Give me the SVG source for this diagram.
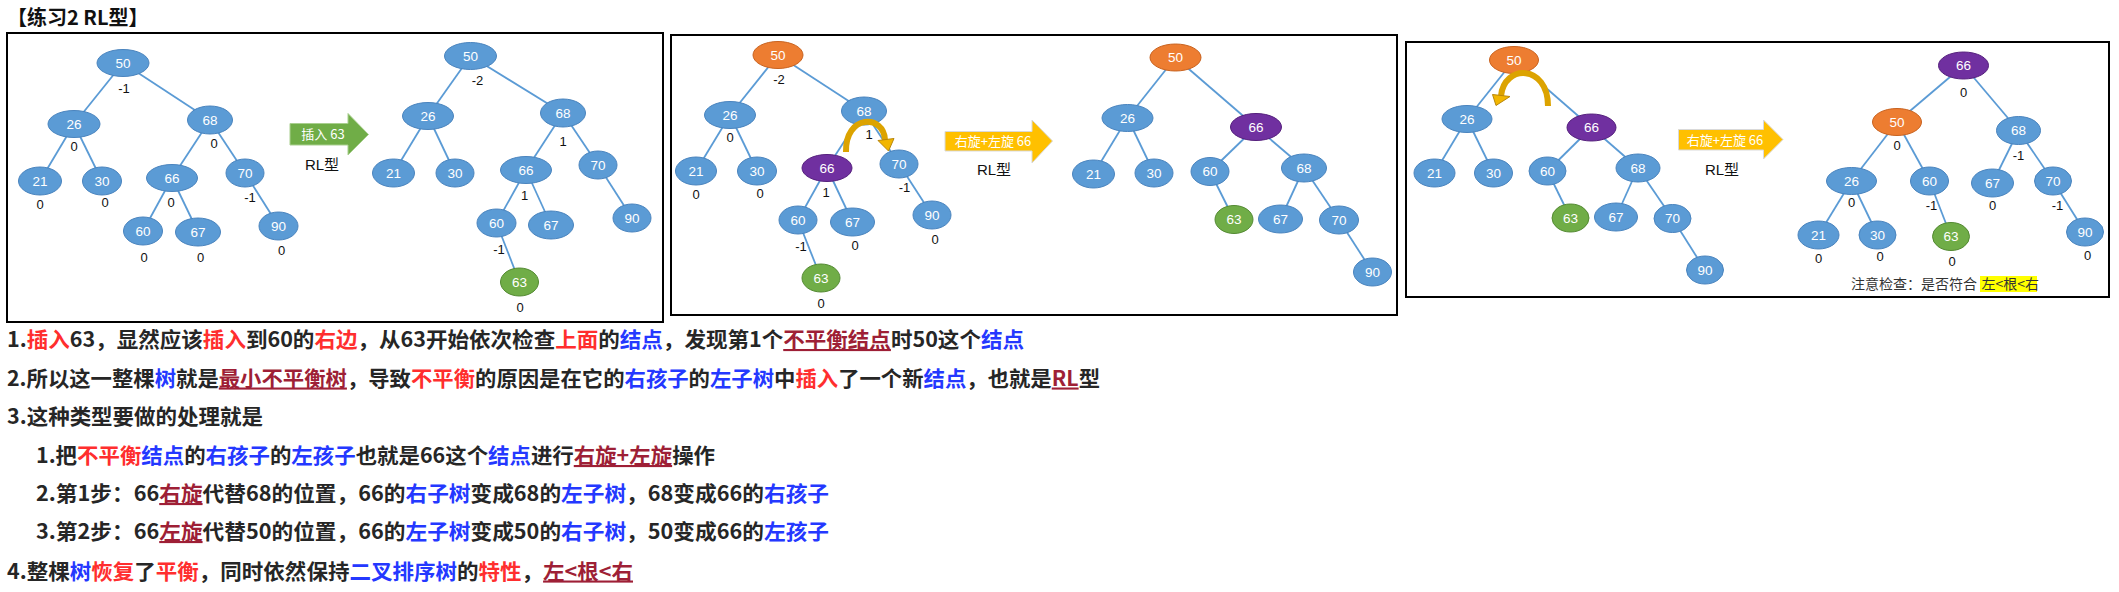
<svg xmlns="http://www.w3.org/2000/svg" width="2119" height="592" viewBox="0 0 2119 592">
<style>
.bx{fill:none;stroke:#000;stroke-width:2}
.e{stroke:#5B9BD5;stroke-width:1.8;fill:none}
.nb{fill:#5B9BD5;stroke:#4A84BE;stroke-width:1}
.no{fill:#ED7D31;stroke:#C8621F;stroke-width:1}
.np{fill:#7030A0;stroke:#55207D;stroke-width:1}
.ng{fill:#70AD47;stroke:#548A33;stroke-width:1}
.nt{font-family:"Liberation Sans",Arial,sans-serif;font-size:13.5px;fill:#fff;text-anchor:middle}
.bf{font-family:"Liberation Sans",Arial,sans-serif;font-size:13px;fill:#111;text-anchor:middle}
.at{font-family:"Noto Sans CJK SC","Liberation Sans",sans-serif;font-size:13px;fill:#fff;text-anchor:middle}
.rl{font-family:"Liberation Sans","Noto Sans CJK SC",sans-serif;font-size:15px;fill:#111;text-anchor:middle}
.ln{font-family:"Noto Sans CJK SC","Liberation Sans",sans-serif;font-size:21px;font-weight:bold;fill:#262626}
.r{fill:#FF2E2E}
.b{fill:#2438FF}
.d{fill:#9E1F36;text-decoration:underline}
.arc{fill:none;stroke:#DCA300;stroke-width:6}
.ah{fill:#F2B600;stroke:#B8860B;stroke-width:1}
.cn{font-family:"Noto Sans CJK SC",sans-serif;font-size:14px;fill:#333}
</style>

<text x="7" y="25" font-family="Noto Sans CJK SC, sans-serif" font-size="20" font-weight="bold" fill="#111">【练习2 RL型】</text>

<g id="frames">
<rect class="bx" x="7" y="33" width="656" height="289"/>
<rect class="bx" x="671" y="35" width="726" height="280"/>
<rect class="bx" x="1406" y="42" width="703" height="255"/>
</g>

<g id="connectors">
<!-- tree 1 -->
<line class="e" x1="123" y1="63" x2="74" y2="124"/>
<line class="e" x1="123" y1="63" x2="210" y2="120"/>
<line class="e" x1="74" y1="124" x2="40" y2="181"/>
<line class="e" x1="74" y1="124" x2="102" y2="181"/>
<line class="e" x1="210" y1="120" x2="172" y2="178"/>
<line class="e" x1="210" y1="120" x2="245" y2="173"/>
<line class="e" x1="172" y1="178" x2="143" y2="231"/>
<line class="e" x1="172" y1="178" x2="198" y2="232"/>
<line class="e" x1="245" y1="173" x2="278.5" y2="226"/>
<!-- tree 2 -->
<line class="e" x1="470.5" y1="56" x2="428" y2="116"/>
<line class="e" x1="470.5" y1="56" x2="563" y2="113"/>
<line class="e" x1="428" y1="116" x2="393.5" y2="173"/>
<line class="e" x1="428" y1="116" x2="455" y2="173"/>
<line class="e" x1="563" y1="113" x2="526" y2="170"/>
<line class="e" x1="563" y1="113" x2="598" y2="165"/>
<line class="e" x1="526" y1="170" x2="496.5" y2="223"/>
<line class="e" x1="526" y1="170" x2="551" y2="225"/>
<line class="e" x1="598" y1="165" x2="632" y2="218"/>
<line class="e" x1="496.5" y1="223" x2="519.5" y2="282"/>
<!-- tree 3 -->
<line class="e" x1="778" y1="55" x2="730" y2="115"/>
<line class="e" x1="778" y1="55" x2="864" y2="111"/>
<line class="e" x1="730" y1="115" x2="696" y2="171"/>
<line class="e" x1="730" y1="115" x2="757" y2="171"/>
<line class="e" x1="864" y1="111" x2="827" y2="168"/>
<line class="e" x1="864" y1="111" x2="899" y2="164"/>
<line class="e" x1="827" y1="168" x2="798" y2="220"/>
<line class="e" x1="827" y1="168" x2="852.5" y2="222"/>
<line class="e" x1="899" y1="164" x2="932" y2="215"/>
<line class="e" x1="798" y1="220" x2="821" y2="278"/>
<!-- tree 4 -->
<line class="e" x1="1175.5" y1="57.5" x2="1127.5" y2="118"/>
<line class="e" x1="1175.5" y1="57.5" x2="1256" y2="127"/>
<line class="e" x1="1127.5" y1="118" x2="1093.5" y2="174"/>
<line class="e" x1="1127.5" y1="118" x2="1154" y2="173"/>
<line class="e" x1="1256" y1="127" x2="1210" y2="171.5"/>
<line class="e" x1="1256" y1="127" x2="1304" y2="168"/>
<line class="e" x1="1210" y1="171.5" x2="1234" y2="219.5"/>
<line class="e" x1="1304" y1="168" x2="1280.5" y2="219"/>
<line class="e" x1="1304" y1="168" x2="1339" y2="220"/>
<line class="e" x1="1339" y1="220" x2="1372.5" y2="272"/>
<!-- tree 5 -->
<line class="e" x1="1514" y1="60" x2="1467" y2="119"/>
<line class="e" x1="1514" y1="60" x2="1591.5" y2="127.5"/>
<line class="e" x1="1467" y1="119" x2="1434.5" y2="173"/>
<line class="e" x1="1467" y1="119" x2="1493.5" y2="173"/>
<line class="e" x1="1591.5" y1="127.5" x2="1547.5" y2="171"/>
<line class="e" x1="1591.5" y1="127.5" x2="1638" y2="168"/>
<line class="e" x1="1547.5" y1="171" x2="1570.5" y2="218"/>
<line class="e" x1="1638" y1="168" x2="1616" y2="217"/>
<line class="e" x1="1638" y1="168" x2="1672.5" y2="218.5"/>
<line class="e" x1="1672.5" y1="218.5" x2="1705" y2="270"/>
<!-- tree 6 -->
<line class="e" x1="1963.5" y1="65.5" x2="1897" y2="122"/>
<line class="e" x1="1963.5" y1="65.5" x2="2018.5" y2="130.5"/>
<line class="e" x1="1897" y1="122" x2="1851.5" y2="181"/>
<line class="e" x1="1897" y1="122" x2="1929.5" y2="181"/>
<line class="e" x1="2018.5" y1="130.5" x2="1992.5" y2="183"/>
<line class="e" x1="2018.5" y1="130.5" x2="2053" y2="181"/>
<line class="e" x1="1851.5" y1="181" x2="1818.5" y2="235"/>
<line class="e" x1="1851.5" y1="181" x2="1877.5" y2="235"/>
<line class="e" x1="1929.5" y1="181" x2="1951" y2="236.5"/>
<line class="e" x1="2053" y1="181" x2="2085" y2="232"/>
</g>

<!-- tree 1 nodes -->
<g id="t1-50"><ellipse class="nb" cx="123" cy="63" rx="26" ry="13.5"/><text class="nt" x="123" y="67.5">50</text></g>
<g id="t1-26"><ellipse class="nb" cx="74" cy="124" rx="26" ry="13.5"/><text class="nt" x="74" y="128.5">26</text></g>
<g id="t1-68"><ellipse class="nb" cx="210" cy="120" rx="22.5" ry="14"/><text class="nt" x="210" y="124.5">68</text></g>
<g id="t1-21"><ellipse class="nb" cx="40" cy="181" rx="21.5" ry="14"/><text class="nt" x="40" y="185.5">21</text></g>
<g id="t1-30"><ellipse class="nb" cx="102" cy="181" rx="19.5" ry="14"/><text class="nt" x="102" y="185.5">30</text></g>
<g id="t1-66"><ellipse class="nb" cx="172" cy="178" rx="25.5" ry="13.5"/><text class="nt" x="172" y="182.5">66</text></g>
<g id="t1-70"><ellipse class="nb" cx="245" cy="173" rx="19" ry="14"/><text class="nt" x="245" y="177.5">70</text></g>
<g id="t1-60"><ellipse class="nb" cx="143" cy="231" rx="19.5" ry="14"/><text class="nt" x="143" y="235.5">60</text></g>
<g id="t1-67"><ellipse class="nb" cx="198" cy="232" rx="22.5" ry="14"/><text class="nt" x="198" y="236.5">67</text></g>
<g id="t1-90"><ellipse class="nb" cx="278.5" cy="226" rx="19.5" ry="14"/><text class="nt" x="278.5" y="230.5">90</text></g>
<g id="t1-bf">
<text class="bf" x="124" y="92.5">-1</text>
<text class="bf" x="74" y="150.5">0</text>
<text class="bf" x="214" y="147.5">0</text>
<text class="bf" x="40" y="208.5">0</text>
<text class="bf" x="105" y="206.5">0</text>
<text class="bf" x="171" y="206.5">0</text>
<text class="bf" x="250" y="201.5">-1</text>
<text class="bf" x="144" y="261.5">0</text>
<text class="bf" x="200.5" y="261.5">0</text>
<text class="bf" x="281.5" y="254.5">0</text>
</g>

<g id="arrow-insert">
<polygon points="290,123.5 348,123.5 348,113.5 368.5,134.5 348,155 348,145 290,145" fill="#70AD47" stroke="#A9CF8F" stroke-width="1"/>
<text class="at" x="323" y="139">插入 63</text>
<text class="rl" x="322" y="170">RL型</text>
</g>

<!-- tree 2 nodes -->
<g id="t2-50"><ellipse class="nb" cx="470.5" cy="56" rx="26" ry="13.5"/><text class="nt" x="470.5" y="60.5">50</text></g>
<g id="t2-26"><ellipse class="nb" cx="428" cy="116" rx="25.5" ry="13.5"/><text class="nt" x="428" y="120.5">26</text></g>
<g id="t2-68"><ellipse class="nb" cx="563" cy="113" rx="22.5" ry="14"/><text class="nt" x="563" y="117.5">68</text></g>
<g id="t2-21"><ellipse class="nb" cx="393.5" cy="173" rx="21" ry="14"/><text class="nt" x="393.5" y="177.5">21</text></g>
<g id="t2-30"><ellipse class="nb" cx="455" cy="173" rx="19" ry="14"/><text class="nt" x="455" y="177.5">30</text></g>
<g id="t2-66"><ellipse class="nb" cx="526" cy="170" rx="25.5" ry="13.5"/><text class="nt" x="526" y="174.5">66</text></g>
<g id="t2-70"><ellipse class="nb" cx="598" cy="165" rx="19" ry="14"/><text class="nt" x="598" y="169.5">70</text></g>
<g id="t2-60"><ellipse class="nb" cx="496.5" cy="223" rx="19.5" ry="14"/><text class="nt" x="496.5" y="227.5">60</text></g>
<g id="t2-67"><ellipse class="nb" cx="551" cy="225" rx="22.5" ry="14"/><text class="nt" x="551" y="229.5">67</text></g>
<g id="t2-90"><ellipse class="nb" cx="632" cy="218" rx="19" ry="14"/><text class="nt" x="632" y="222.5">90</text></g>
<g id="t2-63"><ellipse class="ng" cx="519.5" cy="282" rx="19" ry="14"/><text class="nt" x="519.5" y="286.5">63</text></g>
<g id="t2-bf">
<text class="bf" x="477.5" y="84.5">-2</text>
<text class="bf" x="563" y="145.5">1</text>
<text class="bf" x="524.5" y="199.5">1</text>
<text class="bf" x="499" y="253.5">-1</text>
<text class="bf" x="520" y="311.5">0</text>
</g>

<!-- tree 3 nodes -->
<g id="t3-50"><ellipse class="no" cx="778" cy="55" rx="25" ry="13.5"/><text class="nt" x="778" y="59.5">50</text></g>
<g id="t3-26"><ellipse class="nb" cx="730" cy="115" rx="25.5" ry="13.5"/><text class="nt" x="730" y="119.5">26</text></g>
<g id="t3-68"><ellipse class="nb" cx="864" cy="111" rx="22.5" ry="14"/><text class="nt" x="864" y="115.5">68</text></g>
<g id="t3-21"><ellipse class="nb" cx="696" cy="171" rx="20.5" ry="14"/><text class="nt" x="696" y="175.5">21</text></g>
<g id="t3-30"><ellipse class="nb" cx="757" cy="171" rx="19.5" ry="14"/><text class="nt" x="757" y="175.5">30</text></g>
<g id="t3-66"><ellipse class="np" cx="827" cy="168" rx="25" ry="13.5"/><text class="nt" x="827" y="172.5">66</text></g>
<g id="t3-70"><ellipse class="nb" cx="899" cy="164" rx="19" ry="14"/><text class="nt" x="899" y="168.5">70</text></g>
<g id="t3-60"><ellipse class="nb" cx="798" cy="220" rx="19" ry="14"/><text class="nt" x="798" y="224.5">60</text></g>
<g id="t3-67"><ellipse class="nb" cx="852.5" cy="222" rx="22" ry="14"/><text class="nt" x="852.5" y="226.5">67</text></g>
<g id="t3-90"><ellipse class="nb" cx="932" cy="215" rx="19" ry="14"/><text class="nt" x="932" y="219.5">90</text></g>
<g id="t3-63"><ellipse class="ng" cx="821" cy="278" rx="19" ry="14"/><text class="nt" x="821" y="282.5">63</text></g>
<g id="t3-rot">
<path class="arc" d="M846,152 C845,114 884,114 885,140"/>
<polygon class="ah" points="878,140.5 894,138.5 888.5,151"/>
</g>
<g id="t3-bf">
<text class="bf" x="779" y="83.5">-2</text>
<text class="bf" x="730" y="141.5">0</text>
<text class="bf" x="869" y="138.5">1</text>
<text class="bf" x="696" y="198.5">0</text>
<text class="bf" x="760" y="197.5">0</text>
<text class="bf" x="826" y="196.5">1</text>
<text class="bf" x="904.5" y="191.5">-1</text>
<text class="bf" x="801" y="250.5">-1</text>
<text class="bf" x="855" y="249.5">0</text>
<text class="bf" x="935" y="243.5">0</text>
<text class="bf" x="821" y="307.5">0</text>
</g>

<g id="arrow-rot1">
<polygon points="945,131.5 1032,131.5 1032,120 1052.5,141 1032,163 1032,151 945,151" fill="#FFC000" stroke="#D9D9D9" stroke-width="1"/>
<text class="at" x="993" y="146">右旋+左旋 66</text>
<text class="rl" x="994" y="175">RL型</text>
</g>

<!-- tree 4 nodes -->
<g id="t4-50"><ellipse class="no" cx="1175.5" cy="57.5" rx="25.5" ry="13.5"/><text class="nt" x="1175.5" y="62">50</text></g>
<g id="t4-26"><ellipse class="nb" cx="1127.5" cy="118" rx="25.5" ry="13.5"/><text class="nt" x="1127.5" y="122.5">26</text></g>
<g id="t4-66"><ellipse class="np" cx="1256" cy="127" rx="25.5" ry="13.5"/><text class="nt" x="1256" y="131.5">66</text></g>
<g id="t4-21"><ellipse class="nb" cx="1093.5" cy="174" rx="21" ry="14"/><text class="nt" x="1093.5" y="178.5">21</text></g>
<g id="t4-30"><ellipse class="nb" cx="1154" cy="173" rx="19" ry="14"/><text class="nt" x="1154" y="177.5">30</text></g>
<g id="t4-60"><ellipse class="nb" cx="1210" cy="171.5" rx="19" ry="14"/><text class="nt" x="1210" y="176">60</text></g>
<g id="t4-68"><ellipse class="nb" cx="1304" cy="168" rx="22.5" ry="14"/><text class="nt" x="1304" y="172.5">68</text></g>
<g id="t4-63"><ellipse class="ng" cx="1234" cy="219.5" rx="19" ry="14"/><text class="nt" x="1234" y="224">63</text></g>
<g id="t4-67"><ellipse class="nb" cx="1280.5" cy="219" rx="22" ry="14"/><text class="nt" x="1280.5" y="223.5">67</text></g>
<g id="t4-70"><ellipse class="nb" cx="1339" cy="220" rx="19.5" ry="14"/><text class="nt" x="1339" y="224.5">70</text></g>
<g id="t4-90"><ellipse class="nb" cx="1372.5" cy="272" rx="19" ry="14"/><text class="nt" x="1372.5" y="276.5">90</text></g>

<!-- tree 5 nodes -->
<g id="t5-50"><ellipse class="no" cx="1514" cy="60" rx="24.5" ry="13.5"/><text class="nt" x="1514" y="64.5">50</text></g>
<g id="t5-26"><ellipse class="nb" cx="1467" cy="119" rx="25" ry="13.5"/><text class="nt" x="1467" y="123.5">26</text></g>
<g id="t5-66"><ellipse class="np" cx="1591.5" cy="127.5" rx="24.5" ry="13.5"/><text class="nt" x="1591.5" y="132">66</text></g>
<g id="t5-21"><ellipse class="nb" cx="1434.5" cy="173" rx="20.5" ry="14"/><text class="nt" x="1434.5" y="177.5">21</text></g>
<g id="t5-30"><ellipse class="nb" cx="1493.5" cy="173" rx="19" ry="14"/><text class="nt" x="1493.5" y="177.5">30</text></g>
<g id="t5-60"><ellipse class="nb" cx="1547.5" cy="171" rx="18.5" ry="14"/><text class="nt" x="1547.5" y="175.5">60</text></g>
<g id="t5-68"><ellipse class="nb" cx="1638" cy="168" rx="22" ry="14"/><text class="nt" x="1638" y="172.5">68</text></g>
<g id="t5-63"><ellipse class="ng" cx="1570.5" cy="218" rx="18.5" ry="14"/><text class="nt" x="1570.5" y="222.5">63</text></g>
<g id="t5-67"><ellipse class="nb" cx="1616" cy="217" rx="21.5" ry="14"/><text class="nt" x="1616" y="221.5">67</text></g>
<g id="t5-70"><ellipse class="nb" cx="1672.5" cy="218.5" rx="18.5" ry="14"/><text class="nt" x="1672.5" y="223">70</text></g>
<g id="t5-90"><ellipse class="nb" cx="1705" cy="270" rx="18.5" ry="14"/><text class="nt" x="1705" y="274.5">90</text></g>
<g id="t5-rot">
<path class="arc" d="M1548,106 C1548,64 1504,64 1501,96"/>
<polygon class="ah" points="1492.5,94.5 1510,96.5 1496,105.5"/>
</g>

<g id="arrow-rot2">
<polygon points="1678.5,129.5 1763.5,129.5 1763.5,120 1783,139.5 1763.5,159 1763.5,150 1678.5,150" fill="#FFC000" stroke="#D9D9D9" stroke-width="1"/>
<text class="at" x="1725" y="145">右旋+左旋 66</text>
<text class="rl" x="1722" y="175">RL型</text>
</g>

<!-- tree 6 nodes -->
<g id="t6-66"><ellipse class="np" cx="1963.5" cy="65.5" rx="25" ry="13.5"/><text class="nt" x="1963.5" y="70">66</text></g>
<g id="t6-50"><ellipse class="no" cx="1897" cy="122" rx="24.5" ry="13.5"/><text class="nt" x="1897" y="126.5">50</text></g>
<g id="t6-68"><ellipse class="nb" cx="2018.5" cy="130.5" rx="22" ry="14"/><text class="nt" x="2018.5" y="135">68</text></g>
<g id="t6-26"><ellipse class="nb" cx="1851.5" cy="181" rx="25" ry="13.5"/><text class="nt" x="1851.5" y="185.5">26</text></g>
<g id="t6-60"><ellipse class="nb" cx="1929.5" cy="181" rx="19" ry="14"/><text class="nt" x="1929.5" y="185.5">60</text></g>
<g id="t6-67"><ellipse class="nb" cx="1992.5" cy="183" rx="21" ry="14"/><text class="nt" x="1992.5" y="187.5">67</text></g>
<g id="t6-70"><ellipse class="nb" cx="2053" cy="181" rx="18.5" ry="14"/><text class="nt" x="2053" y="185.5">70</text></g>
<g id="t6-21"><ellipse class="nb" cx="1818.5" cy="235" rx="20.5" ry="14"/><text class="nt" x="1818.5" y="239.5">21</text></g>
<g id="t6-30"><ellipse class="nb" cx="1877.5" cy="235" rx="18.5" ry="14"/><text class="nt" x="1877.5" y="239.5">30</text></g>
<g id="t6-63"><ellipse class="ng" cx="1951" cy="236.5" rx="18.5" ry="14"/><text class="nt" x="1951" y="241">63</text></g>
<g id="t6-90"><ellipse class="nb" cx="2085" cy="232" rx="18.5" ry="14"/><text class="nt" x="2085" y="236.5">90</text></g>
<g id="t6-bf">
<text class="bf" x="1963.5" y="96.5">0</text>
<text class="bf" x="1897" y="149.5">0</text>
<text class="bf" x="2018.5" y="159.5">-1</text>
<text class="bf" x="1851.5" y="206.5">0</text>
<text class="bf" x="1931.5" y="210">-1</text>
<text class="bf" x="1992.5" y="210">0</text>
<text class="bf" x="2057.5" y="209.5">-1</text>
<text class="bf" x="1818.5" y="262.5">0</text>
<text class="bf" x="1880" y="261">0</text>
<text class="bf" x="1952" y="266">0</text>
<text class="bf" x="2087.5" y="260">0</text>
</g>

<g id="check-note">
<rect x="1980" y="276" width="57" height="16" fill="#FFFF00"/>
<text class="cn" x="1851" y="289">注意检查：是否符合</text>
<text class="cn" x="1981.5" y="289">左&lt;根&lt;右</text>
</g>

<g id="notes">
<text class="ln" x="7" y="347" textLength="1017" lengthAdjust="spacingAndGlyphs">1.<tspan class="r">插入</tspan>63，显然应该<tspan class="r">插入</tspan>到60的<tspan class="r">右边</tspan>，从63开始依次检查<tspan class="r">上面</tspan>的<tspan class="b">结点</tspan>，发现第1个<tspan class="d">不平衡结点</tspan>时50这个<tspan class="b">结点</tspan></text>
<text class="ln" x="7" y="385.5" textLength="1093" lengthAdjust="spacingAndGlyphs">2.所以这一整棵<tspan class="b">树</tspan>就是<tspan class="d">最小不平衡树</tspan>，导致<tspan class="r">不平衡</tspan>的原因是在它的<tspan class="b">右孩子</tspan>的<tspan class="b">左子树</tspan>中<tspan class="r">插入</tspan>了一个新<tspan class="b">结点</tspan>，也就是<tspan class="d">RL</tspan>型</text>
<text class="ln" x="7" y="424" textLength="256" lengthAdjust="spacingAndGlyphs">3.这种类型要做的处理就是</text>
<text class="ln" x="36" y="463" textLength="679" lengthAdjust="spacingAndGlyphs">1.把<tspan class="r">不平衡</tspan><tspan class="b">结点</tspan>的<tspan class="b">右孩子</tspan>的<tspan class="b">左孩子</tspan>也就是66这个<tspan class="b">结点</tspan>进行<tspan class="d">右旋+左旋</tspan>操作</text>
<text class="ln" x="36" y="501" textLength="793" lengthAdjust="spacingAndGlyphs">2.第1步：66<tspan class="d">右旋</tspan>代替68的位置，66的<tspan class="b">右子树</tspan>变成68的<tspan class="b">左子树</tspan>，68变成66的<tspan class="b">右孩子</tspan></text>
<text class="ln" x="36" y="539" textLength="793" lengthAdjust="spacingAndGlyphs">3.第2步：66<tspan class="d">左旋</tspan>代替50的位置，66的<tspan class="b">左子树</tspan>变成50的<tspan class="b">右子树</tspan>，50变成66的<tspan class="b">左孩子</tspan></text>
<text class="ln" x="7" y="578.5" textLength="626" lengthAdjust="spacingAndGlyphs">4.整棵<tspan class="b">树</tspan><tspan class="r">恢复</tspan>了<tspan class="r">平衡</tspan>，同时依然保持<tspan class="b">二叉排序树</tspan>的<tspan class="r">特性</tspan>，<tspan class="d">左&lt;根&lt;右</tspan></text>
</g>
</svg>
